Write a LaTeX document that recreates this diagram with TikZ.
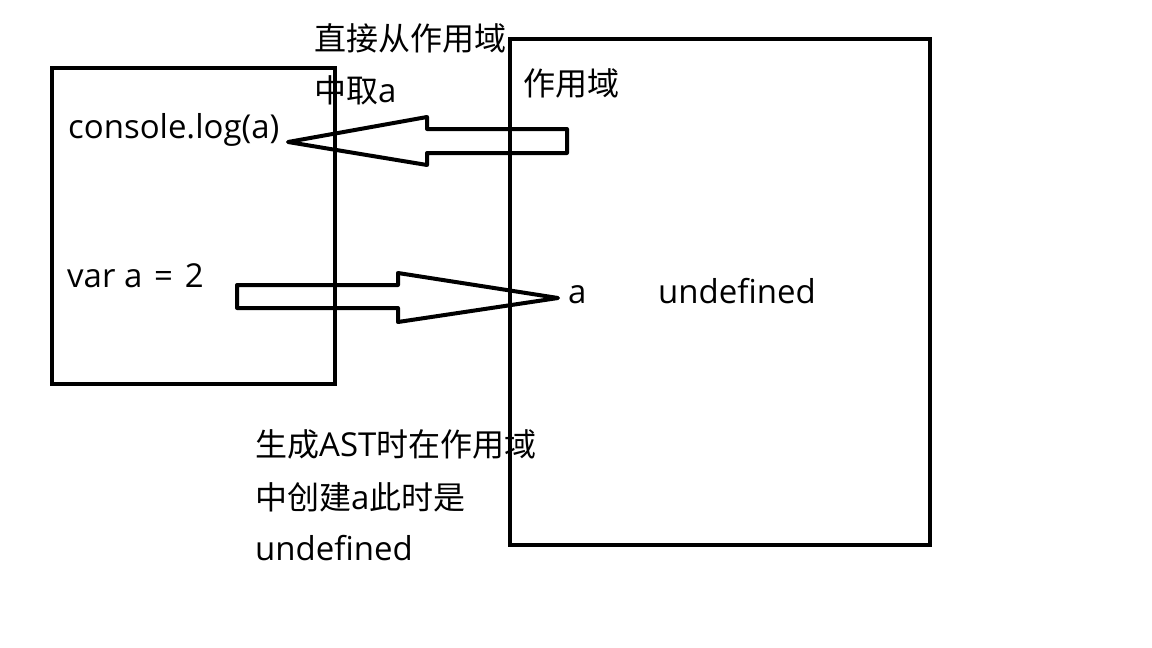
\documentclass[tikz,border=0pt]{standalone}
\usepackage{fontspec}
\setmainfont{Open Sans}[Scale=1.03]
\newfontfamily\cjk{Noto Sans CJK SC}
\begin{document}
\begin{tikzpicture}
[x=1pt,y=-1pt,
  boxDecorate/.style={draw,line width=4.5pt,line join=miter},
  arrowDecorate/.style={draw,line width=4pt,line join=round},
  textDecorate/.style={anchor=base west,inner sep=0pt,font=\fontsize{32}{40}\selectfont}]
\useasboundingbox (0,0) rectangle (1152,648);
%% boxes
\draw[boxDecorate] (52,68) rectangle (335,384);
\draw[boxDecorate] (510,39) rectangle (930,545);
%% texts
\foreach \nodename/\x/\y/\words in {
  take1/314/50/{\cjk 直接从作用域}, take2/314/102/{{\cjk 中取}a},
  scope/523/95/{\cjk 作用域},
  log/68/138/{console.log(a)},
  decl/67/287/{var a\hspace{0.36em}=\hspace{0.36em}2},
  var/568/303/{a}, val/658/303/{undefined},
  note1/255/456/{{\cjk 生成}AST{\cjk 时在作用域}},
  note2/255/509/{{\cjk 中创建}a{\cjk 此时是}},
  note3/255/560/{undefined}}
{
  \node (\nodename) at (\x,\y) [textDecorate] {\words};
}
%% arrows
\coordinate (getTip) at (288,142);
\coordinate (putTip) at (558,298);
\draw[arrowDecorate] (getTip) -- ++(139,-25) -- ++(0,12) -- ++(140,0)
  -- ++(0,24) -- ++(-140,0) -- ++(0,12) -- cycle;
\draw[arrowDecorate] (putTip) -- ++(-160,-25) -- ++(0,12) -- ++(-161,0)
  -- ++(0,23) -- ++(161,0) -- ++(0,14) -- cycle;
\end{tikzpicture}
\end{document}
